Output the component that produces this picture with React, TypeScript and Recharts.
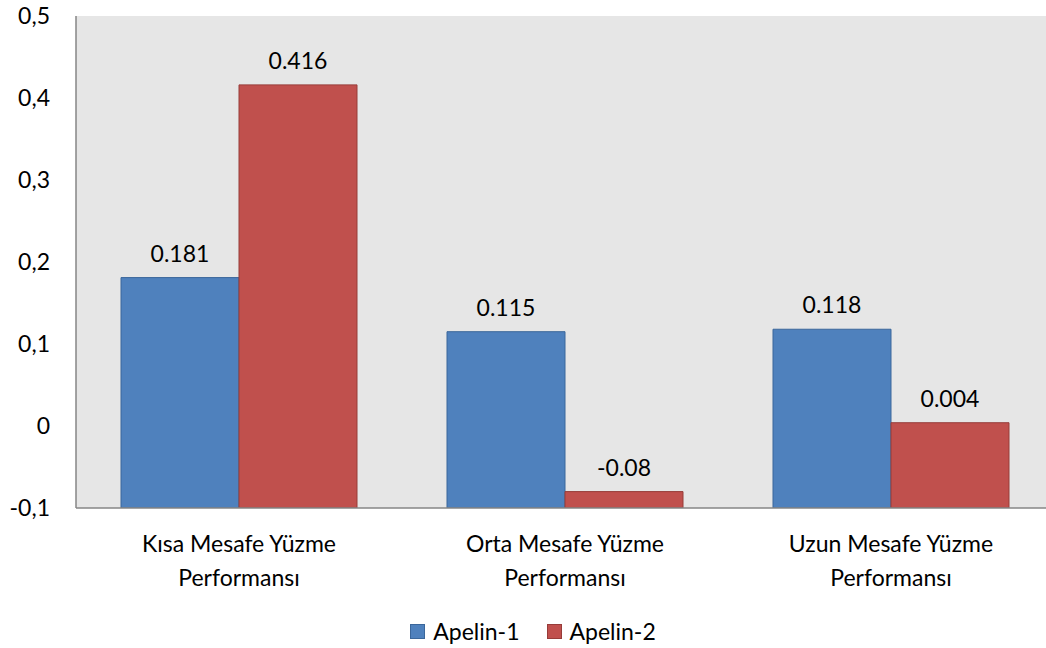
import { BarChart, Bar, XAxis, YAxis, CartesianGrid, Legend, LabelList } from 'recharts';

// categories and series values
const categories = ['Kısa Mesafe Yüzme Performansı', 'Orta Mesafe Yüzme Performansı', 'Uzun Mesafe Yüzme Performansı'];
const apelin1 = [0.181, 0.115, 0.118];
const apelin2 = [0.416, -0.08, 0.004];
const yTicks = [-0.1, 0, 0.1, 0.2, 0.3, 0.4, 0.5];

const seriesNames = ['Apelin-1', 'Apelin-2'];
const seriesFill = ['#4f81bd', '#c0504d'];
const seriesStroke = ['#3b679b', '#973c39'];

const FONT = 'Lato, "Open Sans", sans-serif';
const FS = 23;
const AXIS_MIN = yTicks[0];

// bars are drawn up from the bottom of the axis, like the original
const chartData = categories.map((name, i) => ({
  name,
  a1: [AXIS_MIN, apelin1[i]],
  a2: [AXIS_MIN, apelin2[i]],
}));

const formatY = (v: number) => (v === 0 ? '0' : v.toFixed(1).replace('.', ','));

const CategoryTick = (props: any) => {
  const { x, y, payload } = props;
  const words = String(payload.value).split(' ');
  const line1 = words.slice(0, 3).join(' ');
  const line2 = words.slice(3).join(' ');
  return (
    <text x={x} y={y} textAnchor="middle" fill="#000" fontFamily={FONT} fontSize={FS}>
      <tspan x={x} dy={36}>{line1}</tspan>
      <tspan x={x} dy={34}>{line2}</tspan>
    </text>
  );
};

const LegendContent = () => (
  <div style={{ display: 'flex', justifyContent: 'center', gap: 27, fontFamily: FONT, fontSize: FS }}>
    {seriesNames.map((n, i) => (
      <div key={n} style={{ display: 'flex', alignItems: 'center' }}>
        <span
          style={{
            display: 'inline-block',
            width: 13,
            height: 13,
            background: seriesFill[i],
            border: `1px solid ${seriesStroke[i]}`,
            marginRight: 8,
          }}
        />
        <span>{n}</span>
      </div>
    ))}
  </div>
);

const App = () => {
  return (
    <div style={{ position: 'absolute', left: 0, top: 0, width: 1046, height: 648, overflow: 'hidden', background: '#fff' }}>
      <BarChart
        width={1062}
        height={648}
        data={chartData}
        margin={{ top: 16, right: 8, left: 0, bottom: 0 }}
        barCategoryGap={45}
        barGap={0}
      >
        <CartesianGrid fill="#e6e6e6" stroke="none" horizontal={false} vertical={false} />
        <XAxis
          dataKey="name"
          height={90}
          tickLine={false}
          axisLine={{ stroke: '#868686', strokeWidth: 1.5 }}
          tick={<CategoryTick />}
          interval={0}
        />
        <YAxis
          width={76}
          domain={[yTicks[0], yTicks[yTicks.length - 1]]}
          ticks={yTicks}
          tickFormatter={formatY}
          tickLine={false}
          tickSize={0}
          tickMargin={26}
          axisLine={{ stroke: '#868686', strokeWidth: 1.5 }}
          tick={{ fill: '#000', fontFamily: FONT, fontSize: FS }}
          allowDataOverflow
        />
        <Legend verticalAlign="bottom" height={50} content={<LegendContent />} wrapperStyle={{ left: 10, width: 1046, bottom: 0, top: 617 }} />
        <Bar dataKey="a1" name={seriesNames[0]} fill={seriesFill[0]} stroke={seriesStroke[0]} strokeWidth={1} isAnimationActive={false}>
          <LabelList position="top" offset={16} fill="#000" fontFamily={FONT} fontSize={FS} formatter={(v: any) => String(v)} />
        </Bar>
        <Bar dataKey="a2" name={seriesNames[1]} fill={seriesFill[1]} stroke={seriesStroke[1]} strokeWidth={1} isAnimationActive={false}>
          <LabelList position="top" offset={16} fill="#000" fontFamily={FONT} fontSize={FS} formatter={(v: any) => String(v)} />
        </Bar>
      </BarChart>
    </div>
  );
};

export default App;
